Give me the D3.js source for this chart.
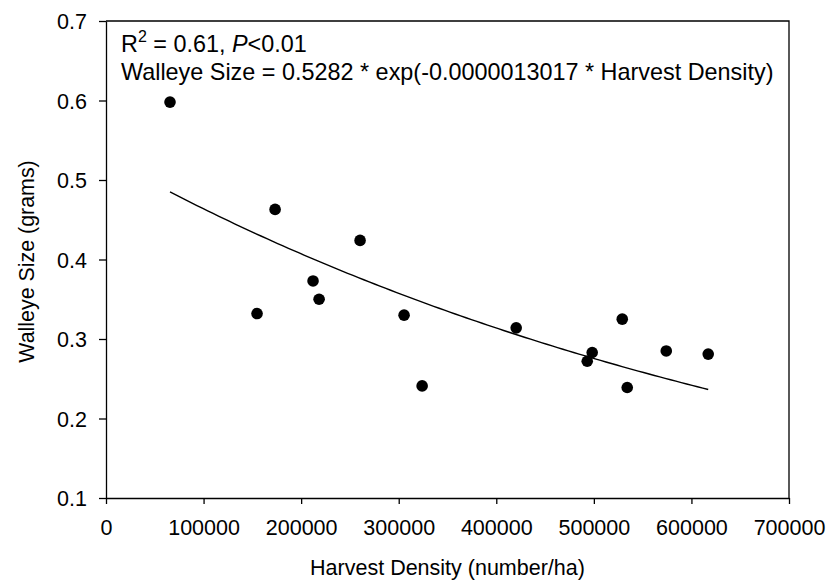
<!DOCTYPE html>
<html>
<head>
<meta charset="utf-8">
<script src="https://cdn.jsdelivr.net/npm/d3@7/dist/d3.min.js"></script>
<style>
  body { margin: 0; background: #fff; }
  svg { display: block; font-family: "Liberation Sans", Arial, sans-serif; }
  .tick text { font-size: 21.5px; fill: #000; }
  .tick line, .domain { stroke: #000; stroke-width: 1.3px; }
</style>
</head>
<body>
<svg width="834" height="584"></svg>
<script>
  // harvest density (number/ha) and walleye size (grams)
  var harvestDensity = [65600, 154800, 173300, 212200, 218400, 260400, 305500, 324000,
    420400, 493200, 498300, 529100, 534200, 574200, 617200];
  var walleyeSize = [0.598, 0.332, 0.463, 0.373, 0.350, 0.424, 0.330, 0.241,
    0.314, 0.272, 0.283, 0.325, 0.239, 0.285, 0.281];

  var xTicks = [0, 100000, 200000, 300000, 400000, 500000, 600000, 700000];
  var yTicks = [0.1, 0.2, 0.3, 0.4, 0.5, 0.6, 0.7];

  // fitted curve parameters as printed on the chart
  var fitA = 0.5282;
  var fitB = 0.0000013017;

  var svg = d3.select("svg");
  var margin = { top: 21, right: 45, bottom: 86, left: 106 };
  var width = +svg.attr("width");
  var height = +svg.attr("height");
  var innerWidth = width - margin.left - margin.right;
  var innerHeight = height - margin.top - margin.bottom;

  var data = harvestDensity.map(function (x, i) { return { x: x, y: walleyeSize[i] }; });

  var xScale = d3.scaleLinear().domain([0, 700000]).range([0, innerWidth]);
  var yScale = d3.scaleLinear().domain([0.1, 0.7]).range([innerHeight, 0]);

  var g = svg.append("g")
    .attr("transform", "translate(" + margin.left + "," + margin.top + ")");

  // frame top + right
  g.append("path")
    .attr("d", "M0,0H" + innerWidth + "V" + innerHeight)
    .attr("fill", "none")
    .attr("stroke", "#000")
    .attr("stroke-width", 1.3);

  var xAxis = d3.axisBottom(xScale).tickValues(xTicks).tickSize(6).tickPadding(16)
    .tickFormat(d3.format("d")).tickSizeOuter(0);
  var yAxis = d3.axisLeft(yScale).tickValues(yTicks).tickSize(7).tickPadding(12)
    .tickFormat(d3.format(".1f")).tickSizeOuter(0);

  g.append("g")
    .attr("transform", "translate(0," + innerHeight + ")")
    .call(xAxis);

  var yAxisGroup = g.append("g").call(yAxis);
  yAxisGroup.selectAll("text").attr("dy", "0.36em");

  svg.selectAll("g").attr("font-size", null).attr("font-family", null);

  // axis labels
  svg.append("text")
    .text("Harvest Density (number/ha)")
    .attr("x", margin.left + innerWidth / 2)
    .attr("y", 575)
    .attr("text-anchor", "middle")
    .attr("font-size", 21.5);

  svg.append("text")
    .text("Walleye Size (grams)")
    .attr("transform", "translate(34," + (margin.top + innerHeight / 2 + 2) + ") rotate(-90)")
    .attr("text-anchor", "middle")
    .attr("font-size", 21.4);

  // fitted curve
  var xMin = d3.min(harvestDensity);
  var xMax = d3.max(harvestDensity);
  var curve = d3.range(0, 101).map(function (i) {
    var x = xMin + (xMax - xMin) * i / 100;
    return { x: x, y: fitA * Math.exp(-fitB * x) };
  });
  var lineGenerator = d3.line()
    .x(function (d) { return xScale(d.x); })
    .y(function (d) { return yScale(d.y); });
  g.append("path")
    .attr("d", lineGenerator(curve))
    .attr("fill", "none")
    .attr("stroke", "#000")
    .attr("stroke-width", 1.4);

  // points
  g.selectAll("circle").data(data).enter().append("circle")
    .attr("cx", function (d) { return xScale(d.x); })
    .attr("cy", function (d) { return yScale(d.y); })
    .attr("r", 5.8)
    .attr("fill", "#000");

  // annotation
  var note1 = svg.append("text").attr("x", 121).attr("y", 52).attr("font-size", 23.4);
  note1.append("tspan").text("R");
  note1.append("tspan").text("2").attr("font-size", 16).attr("dy", -10);
  note1.append("tspan").text(" = 0.61, ").attr("dy", 10);
  note1.append("tspan").text("P").attr("font-style", "italic");
  note1.append("tspan").text("<0.01");

  svg.append("text")
    .attr("x", 121).attr("y", 80).attr("font-size", 23.4)
    .text("Walleye Size = " + fitA + " * exp(-" + fitB.toFixed(10) + " * Harvest Density)");
</script>
</body>
</html>
